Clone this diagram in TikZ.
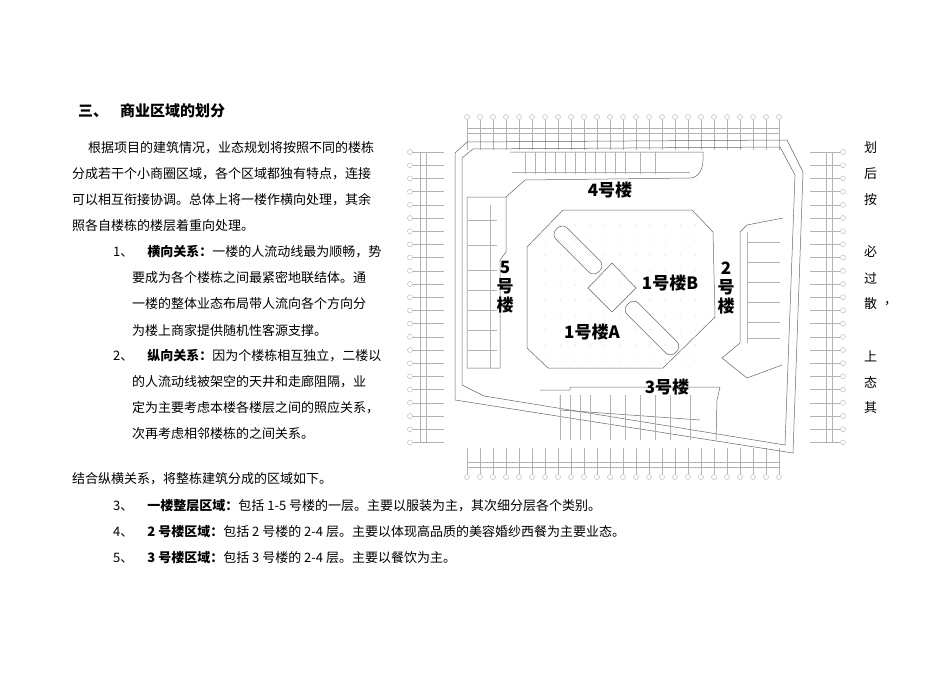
\documentclass[tikz,border=0pt]{standalone}
\usepackage{fontspec}
\setmainfont{Liberation Serif}
\newfontfamily\cjk{Noto Sans CJK SC}
\usetikzlibrary{calc}
\begin{document}
\begin{tikzpicture}[x=1pt,y=-1pt,
  txt/.style={anchor=west,inner sep=0pt,font=\cjk\fontsize{13}{13}\selectfont},
  lbl/.style={inner sep=0pt,font=\cjk\bfseries\fontsize{17}{17}\selectfont},
  grid/.style={draw=black!30,line width=0.3pt},
  wall/.style={draw=black!60,line width=0.5pt},
  gc/.style={circle,draw=black!35,line width=0.3pt,minimum size=5pt,inner sep=0pt}]
\useasboundingbox[fill=white] (0,0) rectangle (950,672);
% ---------- text ----------
\node[anchor=west,inner sep=0pt,font=\cjk\bfseries\fontsize{15}{15}\selectfont] (title) at (78,111) {三、\hspace{12pt}商业区域的划分};
\node[txt] (p1) at (88,148) {根据项目的建筑情况，业态规划将按照不同的楼栋};
\node[txt] (p2) at (72,174) {分成若干个小商圈区域，各个区域都独有特点，连接};
\node[txt] (p3) at (72,200) {可以相互衔接协调。总体上将一楼作横向处理，其余};
\node[txt] (p4) at (72,226) {照各自楼栋的楼层着重向处理。};
\node[txt] (n1) at (113,252) {1、\hspace{14pt}{\bfseries 横向关系：}一楼的人流动线最为顺畅，势};
\node[txt] (n1b) at (132,278) {要成为各个楼栋之间最紧密地联结体。通};
\node[txt] (n1c) at (132,304) {一楼的整体业态布局带人流向各个方向分};
\node[txt] (n1d) at (132,330) {为楼上商家提供随机性客源支撑。};
\node[txt] (n2) at (113,356) {2、\hspace{14pt}{\bfseries 纵向关系：}因为个楼栋相互独立，二楼以};
\node[txt] (n2b) at (132,382) {的人流动线被架空的天井和走廊阻隔，业};
\node[txt] (n2c) at (132,408) {定为主要考虑本楼各楼层之间的照应关系，};
\node[txt] (n2d) at (132,434) {次再考虑相邻楼栋的之间关系。};
\node[txt] (q) at (72,479) {结合纵横关系，将整栋建筑分成的区域如下。};
\node[txt] (n3) at (113,506) {3、\hspace{14pt}{\bfseries 一楼整层区域：}包括 1-5 号楼的一层。主要以服装为主，其次细分层各个类别。};
\node[txt] (n4) at (113,532) {4、\hspace{14pt}{\bfseries 2 号楼区域：}包括 2 号楼的 2-4 层。主要以体现高品质的美容婚纱西餐为主要业态。};
\node[txt] (n5) at (113,558) {5、\hspace{14pt}{\bfseries 3 号楼区域：}包括 3 号楼的 2-4 层。主要以餐饮为主。};
\foreach \c/\y [count=\i] in {划/148,后/174,按/200,必/252,过/278,散/304,上/356,态/382,其/408}
  \node[txt] (r\i) at (864,\y) {\c};
\node[txt] (rc) at (884,304) {，};
% ---------- grid ----------
\foreach \i in {0,...,24}{
  \pgfmathsetmacro\xx{467+\i*13}
  \node[gc] (tc\i) at (\xx,117) {};
  \draw[grid] (tc\i.south) -- (\xx,150);
  \node[gc] (bc\i) at (\xx,477) {};
  \draw[grid] (bc\i.north) -- (\xx,448);
}
\draw[grid] (467,128) -- (779,128) (467,133) -- (779,133);
\draw[grid] (467,462) -- (779,462) (467,467) -- (779,467);
\foreach \j in {0,...,22}{
  \pgfmathsetmacro\yy{152+\j*13.2}
  \node[gc] (lc\j) at (410,\yy) {};
  \draw[grid] (lc\j.east) -- (444,\yy);
  \node[gc] (rcc\j) at (843,\yy) {};
  \draw[grid] (rcc\j.west) -- (810,\yy);
}
\draw[grid] (420,152) -- (420,443) (426,152) -- (426,443);
\draw[grid] (826,152) -- (826,443) (832,152) -- (832,443);
% ---------- site ----------
\draw[wall] (467,142) -- (787,140) -- (803,172) -- (793,453) -- (455,400) -- (455,153) -- cycle;
\draw[wall] (473,149) -- (780,147) -- (795,175) -- (785,445) -- (484,396) -- (462,385) -- (462,158) -- cycle;
% building 4
\draw[wall] (510,152) -- (703,152) -- (703,160) to[out=-90,in=0] (690,178) -- (525,180) -- (506,197) -- (467,197);
\foreach \x in {525,535,545,555,565,575,585,595,605,615,625,640,655} \draw[grid] (\x,152) -- (\x,174);
\draw[grid] (512,172) -- (690,172);
% building 5
\draw[wall] (467,197) -- (467,368) -- (500,368) -- (500,260) -- (506,252) -- (506,197);
\foreach \y in {220,245,270,290,310,330,350} \draw[grid] (467,\y) -- (497,\y);
\draw[grid] (490,205) -- (490,368);
% building 2
\draw[wall] (783,218) -- (747,225) -- (740,232) -- (740,343) -- (722,358) -- (747,378) -- (782,365);
\foreach \y in {242,262,282,302,322,338} \draw[grid] (747,\y) -- (780,\y);
\draw[grid] (747,232) -- (747,343);
% building 3
\draw[wall] (540,390) -- (570,390) -- (570,387) -- (720,387) -- (717,400) -- (716,440);
\draw[wall] (560,395) -- (560,410) -- (700,420);
\foreach \x in {560,570,580,590,610,625,640,655,670,690} \draw[grid] (\x,395) -- (\x,440);
% building 1 octagon
\draw[wall] (563,210) -- (692,210) -- (713,232) -- (715,317) -- (663,368) -- (548,368) -- (527,348) -- (527,247) -- cycle;
\foreach \x in {545,560,575,590,605,620,635,650,665,680,695}
  \foreach \y in {225,240,255,270,285,300,315,330,345,360}
    \fill[black!30] (\x,\y) circle (0.5pt);
\draw[wall,rounded corners=7pt,rotate around={-45:(578,250)}] (548,242) rectangle (608,258);
\draw[wall] (612,263) -- (636,288) -- (612,312) -- (588,288) -- cycle;
\draw[wall,rounded corners=7pt,rotate around={-45:(652,328)}] (618,320) rectangle (686,336);
% labels
\node[lbl] (b4) at (610,190) {4号楼};
\node[lbl] (b1b) at (670,283) {1号楼B};
\node[lbl] (b1a) at (592,332) {1号楼A};
\node[lbl,align=center,font=\cjk\bfseries\fontsize{17}{19}\selectfont] (b2) at (726,288) {2\\号\\楼};
\node[lbl,align=center,font=\cjk\bfseries\fontsize{17}{19}\selectfont] (b5) at (505,287) {5\\号\\楼};
\node[lbl] (b3) at (667,387) {3号楼};
\end{tikzpicture}
\end{document}
